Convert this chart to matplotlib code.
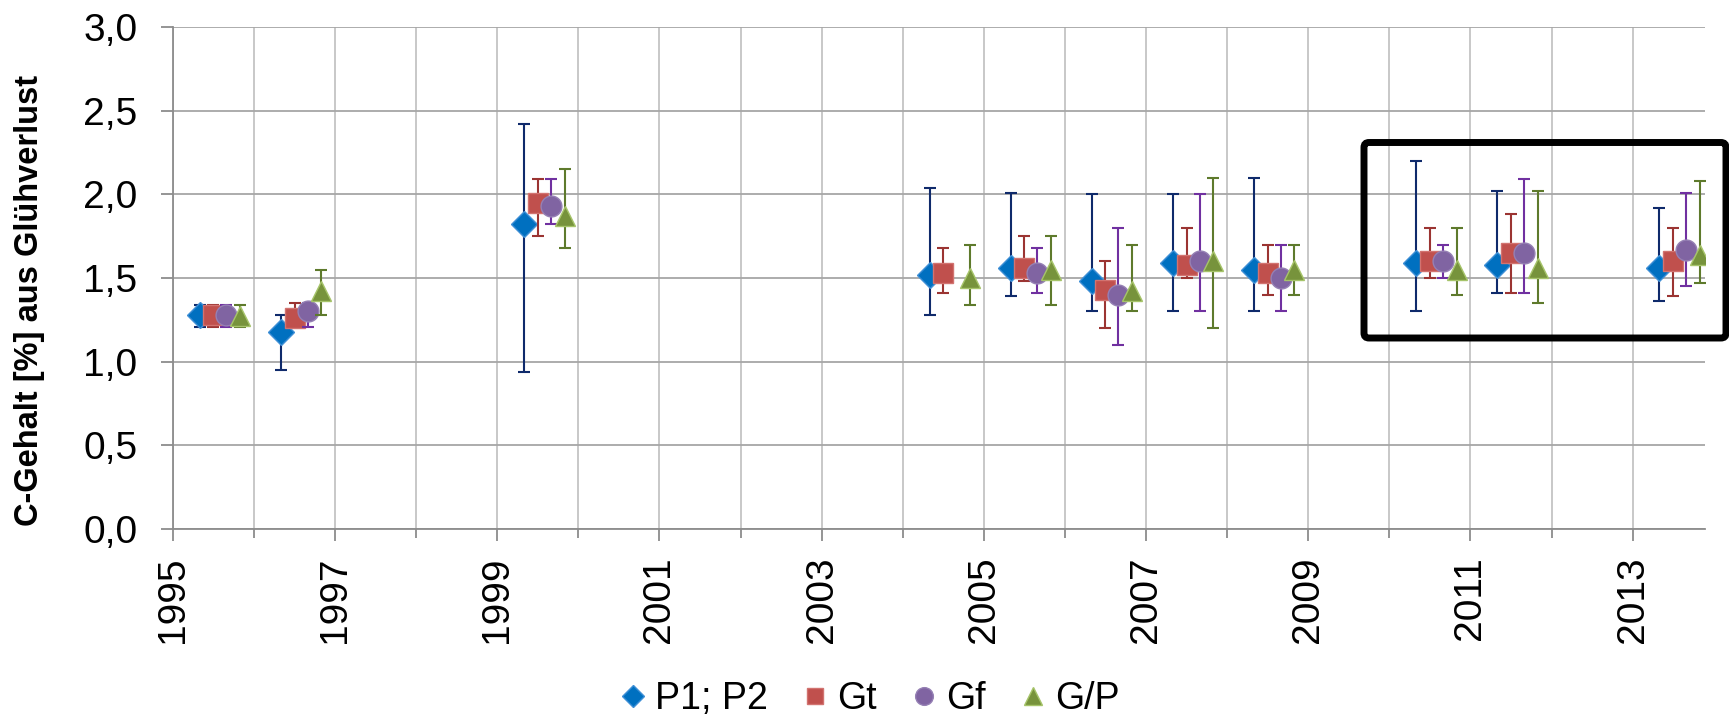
"""C-Gehalt aus Glühverlust je Probenahmejahr, vier Messreihen mit Spannweite"""

import matplotlib
matplotlib.use('Agg')
import matplotlib.pyplot as plt
import numpy as np
from matplotlib.lines import Line2D
from matplotlib.patches import FancyBboxPatch
from matplotlib.ticker import FixedLocator, FuncFormatter

plt.rcParams['font.family'] = ['Liberation Sans', 'DejaVu Sans']

# Probenahmejahre
years = [1995, 1996, 1999, 2004, 2005, 2006, 2007, 2008, 2010, 2011, 2013]

# Mittelwert, oberes und unteres Ende der Spannweite je Reihe
p1_mean = [1.28, 1.18, 1.82, 1.52, 1.56, 1.48, 1.59, 1.55, 1.59, 1.58, 1.56]
p1_max = [1.34, 1.28, 2.42, 2.04, 2.01, 2.00, 2.00, 2.10, 2.20, 2.02, 1.92]
p1_min = [1.21, 0.95, 0.94, 1.28, 1.39, 1.30, 1.30, 1.30, 1.30, 1.41, 1.36]

gt_mean = [1.28, 1.26, 1.95, 1.53, 1.56, 1.43, 1.58, 1.53, 1.60, 1.65, 1.60]
gt_max = [1.34, 1.35, 2.09, 1.68, 1.75, 1.60, 1.80, 1.70, 1.80, 1.88, 1.80]
gt_min = [1.21, 1.21, 1.75, 1.41, 1.48, 1.20, 1.50, 1.40, 1.50, 1.41, 1.39]

gf_mean = [1.28, 1.30, 1.93, np.nan, 1.53, 1.40, 1.60, 1.50, 1.60, 1.65, 1.67]
gf_max = [1.34, 1.35, 2.09, np.nan, 1.68, 1.80, 2.00, 1.70, 1.70, 2.09, 2.01]
gf_min = [1.21, 1.21, 1.82, np.nan, 1.41, 1.10, 1.30, 1.30, 1.50, 1.41, 1.45]

gp_mean = [1.27, 1.42, 1.87, 1.50, 1.55, 1.42, 1.60, 1.55, 1.55, 1.56, 1.64]
gp_max = [1.34, 1.55, 2.15, 1.70, 1.75, 1.70, 2.10, 1.70, 1.80, 2.02, 2.08]
gp_min = [1.21, 1.28, 1.68, 1.34, 1.34, 1.30, 1.20, 1.40, 1.40, 1.35, 1.47]

series_names = ['P1; P2', 'Gt', 'Gf', 'G/P']
# Lage innerhalb des Jahres (Monat der Probenahme)
month_offsets = [0.33, 0.50, 0.66, 0.83]

styles = [
    dict(marker='D', ms=13, mfc='#0070C0', mec='#3F8FD6', ecolor='#0F2A6B'),
    dict(marker='s', ms=14, mfc='#C0504D', mec='#D27370', ecolor='#9B3432'),
    dict(marker='o', ms=15, mfc='#8064A2', mec='#9580B4', ecolor='#7030A0'),
    dict(marker='^', ms=15, mfc='#77933C', mec='#A6C46A', ecolor='#5E7A2C'),
]


def comma(v, _):
    return f'{v:.1f}'.replace('.', ',')


fig = plt.figure(figsize=(17.29, 7.18), dpi=100)
ax = fig.add_axes([0.1, 0.2632, 0.886, 0.6992])

data = [(p1_mean, p1_max, p1_min), (gt_mean, gt_max, gt_min),
        (gf_mean, gf_max, gf_min), (gp_mean, gp_max, gp_min)]

handles = []
for i, ((mean, hi, lo), st, off, name) in enumerate(zip(data, styles, month_offsets, series_names)):
    x = np.array(years) + off
    mean = np.array(mean)
    err = [mean - np.array(lo), np.array(hi) - mean]
    ax.errorbar(x, mean, yerr=err, fmt='none', ecolor=st['ecolor'], elinewidth=1.5,
                capsize=4.5, capthick=1.5, zorder=3 + 2 * i)
    ax.plot(x, mean, ls='none', marker=st['marker'], ms=st['ms'], mfc=st['mfc'],
            mec=st['mec'], mew=1.0, zorder=4 + 2 * i)
    handles.append(Line2D([], [], ls='none', marker=st['marker'], ms=st['ms'] * 0.85,
                          mfc=st['mfc'], mec=st['mec'], mew=1.0, label=name))

ax.set_xlim(1995, 2013.89)
ax.set_ylim(0, 3)
ax.xaxis.set_major_locator(FixedLocator(range(1995, 2014, 2)))
ax.xaxis.set_minor_locator(FixedLocator(range(1996, 2014, 2)))
ax.set_yticks(np.arange(0, 3.01, 0.5))
ax.yaxis.set_major_formatter(FuncFormatter(comma))

for s in ['top', 'right']:
    ax.spines[s].set_visible(False)
for s in ['left', 'bottom']:
    ax.spines[s].set_color('#8C8C8C')
    ax.spines[s].set_linewidth(1.3)

ax.grid(True, which='major', axis='y', color='#A6A6A6', lw=1.3)
ax.grid(True, which='both', axis='x', color='#C4C4C4', lw=1.3)
ax.set_axisbelow(True)

ax.tick_params(axis='both', which='major', length=8.5, width=1.3, color='#8C8C8C',
               labelsize=28, colors='#8C8C8C', labelcolor='black')
ax.tick_params(axis='x', which='major', pad=11, labelrotation=90)
ax.tick_params(axis='y', which='major', pad=17)
ax.tick_params(axis='x', which='minor', length=6.5, width=1.3, color='#8C8C8C')

fig.text(0.017, 0.582, 'C-Gehalt [%] aus Glühverlust', rotation=90, fontsize=23.5,
         fontweight='bold', ha='center', va='center')

fig.legend(handles=handles, loc='lower center', bbox_to_anchor=(0.503, -0.035), ncol=4,
           frameon=False, fontsize=27, handlelength=0.7, handletextpad=0.25,
           columnspacing=0.9, borderpad=0.2)

# Rahmen um die Jahre 2010 bis 2013
frame = FancyBboxPatch((13.64, 3.80), 3.62, 1.955, boxstyle='round,pad=0,rounding_size=0.05',
                       transform=fig.dpi_scale_trans, fill=False, ec='black', lw=5,
                       clip_on=False, zorder=20)
fig.patches.append(frame)

fig.savefig('out.png', dpi=100)
